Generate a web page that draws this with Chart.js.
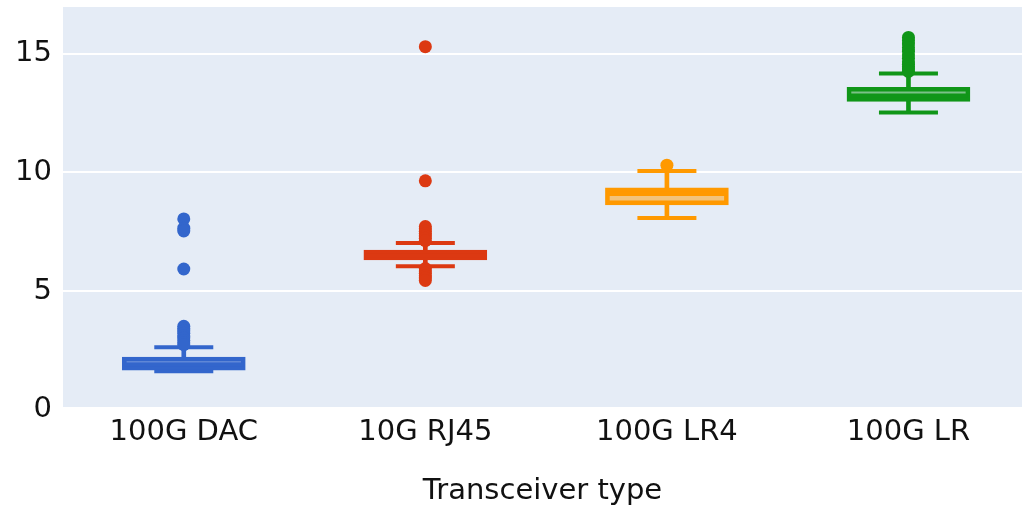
<!DOCTYPE html>
<html>
<head>
<meta charset="utf-8">
<script src="https://cdn.jsdelivr.net/npm/chart.js@4"></script>
<style>
  html, body { margin: 0; padding: 0; background: #fff; }
  canvas { display: block; }
</style>
</head>
<body>
<canvas id="myChart" width="1022" height="511"></canvas>
<script>
// box plot values
var categories = ['100G DAC', '10G RJ45', '100G LR4', '100G LR'];
var lowerWhisker = [1.62, 6.05, 8.08, 12.52];
var q1 = [1.67, 6.31, 8.63, 12.99];
var median = [1.92, 6.50, 9.09, 13.23];
var q3 = [2.22, 6.73, 9.35, 13.58];
var upperWhisker = [2.64, 7.02, 10.06, 14.16];
var outliers = [
  [8.04, 7.65, 7.53, 5.93, 3.52, 3.42, 3.32, 3.22, 3.12, 3.02, 2.92, 2.82, 2.74],
  [15.29, 9.64, 7.72, 7.62, 7.52, 7.42, 7.32, 7.22, 7.12, 5.95, 5.85, 5.75, 5.65, 5.55, 5.45],
  [10.3],
  [15.68, 15.55, 15.4, 15.25, 15.1, 14.95, 14.8, 14.65, 14.55, 14.45, 14.35, 14.25]
];
var yTicks = [0, 5, 10, 15];

var colors = ['#3366CC', '#DC3912', '#FF9900', '#109618'];
var fills = ['rgba(51,102,204,0.5)', 'rgba(220,57,18,0.5)', 'rgba(255,153,0,0.5)', 'rgba(16,150,24,0.5)'];

Chart.defaults.font.family = 'DejaVu Sans';
Chart.defaults.color = '#111111';

var plotBg = {
  id: 'plotBg',
  beforeDraw: function(chart) {
    var a = chart.chartArea, c = chart.ctx;
    c.save();
    c.fillStyle = '#E5ECF6';
    c.fillRect(a.left, a.top, a.right - a.left, a.bottom - a.top);
    c.restore();
  }
};

var outlierPoints = [];
outliers.forEach(function(list, i) {
  list.forEach(function(v) { outlierPoints.push({x: i, y: v}); });
});

var ctx = document.getElementById('myChart').getContext('2d');
var chart = new Chart(ctx, {
  type: 'bar',
  data: {
    datasets: [
      {
        // lower whisker stem
        order: 5, grouped: false, barThickness: 4,
        backgroundColor: colors, borderWidth: 0,
        data: categories.map(function(c, i) { return {x: i, y: [lowerWhisker[i], q1[i]]}; })
      },
      {
        // upper whisker stem
        order: 5, grouped: false, barThickness: 4,
        backgroundColor: colors, borderWidth: 0,
        data: categories.map(function(c, i) { return {x: i, y: [q3[i], upperWhisker[i]]}; })
      },
      {
        // boxes
        order: 4, grouped: false, barThickness: 123,
        backgroundColor: fills, borderColor: colors, borderWidth: 4, borderSkipped: false,
        data: categories.map(function(c, i) { return {x: i, y: [q1[i], q3[i]]}; })
      },
      {
        // whisker caps
        type: 'line', order: 3, showLine: false,
        pointStyle: 'line', pointRadius: 29.5, pointBorderWidth: 4,
        pointBorderColor: function(c) { return colors[c.raw.x]; },
        data: categories.map(function(c, i) { return {x: i, y: lowerWhisker[i]}; })
          .concat(categories.map(function(c, i) { return {x: i, y: upperWhisker[i]}; }))
      },
      {
        // medians
        type: 'line', order: 2, showLine: false,
        pointStyle: 'line', pointRadius: 59.5, pointBorderWidth: 4,
        pointBorderColor: function(c) { return colors[c.raw.x]; },
        data: categories.map(function(c, i) { return {x: i, y: median[i]}; })
      },
      {
        // outliers
        type: 'line', order: 1, showLine: false,
        pointRadius: 6.5, pointBorderWidth: 0,
        pointBackgroundColor: function(c) { return colors[c.raw.x]; },
        data: outlierPoints
      }
    ]
  },
  options: {
    responsive: false,
    animation: false,
    devicePixelRatio: 1,
    layout: { autoPadding: false, padding: { top: 7, right: 0, left: 0, bottom: 0 } },
    plugins: { legend: { display: false }, tooltip: { enabled: false } },
    scales: {
      x: {
        type: 'linear', min: -0.5, max: 3.47, offset: false,
        grid: { display: false, drawTicks: false },
        border: { display: false },
        afterBuildTicks: function(s) { s.ticks = categories.map(function(c, i) { return {value: i}; }); },
        afterFit: function(s) { s.height = 104; s.paddingLeft = 0; s.paddingRight = 0; },
        ticks: {
          padding: 8, autoSkip: false, maxRotation: 0,
          font: { size: 29 },
          callback: function(v) { return categories[v]; }
        },
        title: { display: true, text: 'Transceiver type', font: { size: 29 }, padding: { top: 4, bottom: 2 } }
      },
      y: {
        min: 0.12, max: 16.96,
        grid: { color: '#ffffff', lineWidth: 2, drawTicks: false },
        border: { display: false },
        afterBuildTicks: function(s) { s.ticks = yTicks.map(function(v) { return {value: v}; }); },
        afterFit: function(s) { s.width = 63; s.paddingTop = 0; s.paddingBottom = 0; },
        ticks: { padding: 11, font: { size: 29 } }
      }
    }
  },
  plugins: [plotBg]
});
</script>
</body>
</html>
